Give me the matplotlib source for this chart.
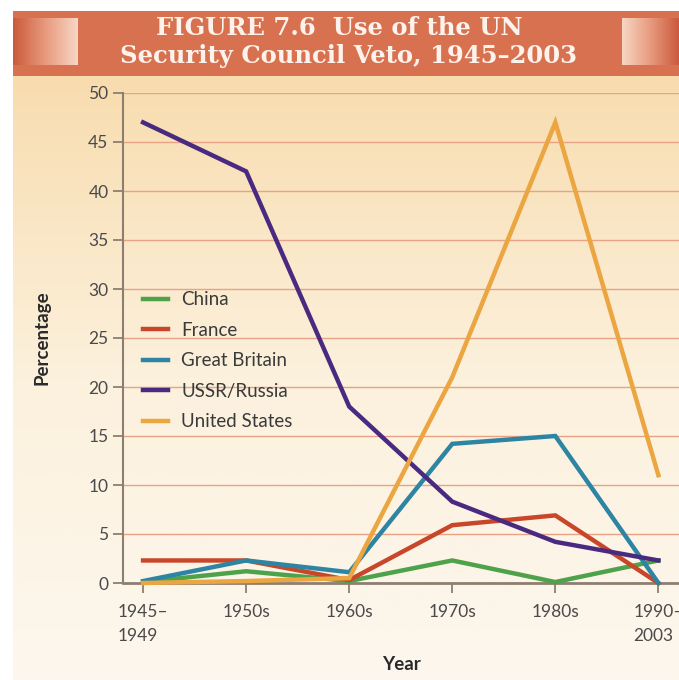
import matplotlib.pyplot as plt
import numpy as np
from matplotlib.colors import LinearSegmentedColormap

# data
periods = ["1945–\n1949", "1950s", "1960s", "1970s", "1980s", "1990–\n2003"]
china = [0.1, 1.2, 0.2, 2.3, 0.1, 2.3]
france = [2.3, 2.3, 0.3, 5.9, 6.9, 0.0]
britain = [0.2, 2.3, 1.1, 14.2, 15.0, 0.0]
ussr = [47.0, 42.0, 18.0, 8.3, 4.2, 2.3]
usa = [0.0, 0.2, 0.5, 21.0, 47.0, 11.0]

series = [("China", china, "#4ea34a"),
          ("France", france, "#c8472b"),
          ("Great Britain", britain, "#2e85a3"),
          ("USSR/Russia", ussr, "#4a2a80"),
          ("United States", usa, "#eba541")]

W, H = 679, 680
fig = plt.figure(figsize=(W / 100, H / 100), dpi=100)
fig.patch.set_facecolor("white")

# background panel with vertical gradient
bg = fig.add_axes([13 / W, 0, 1 - 13 / W, 1 - 76 / H])
bg.axis("off")
grad_cmap = LinearSegmentedColormap.from_list("bg", ["#fcf7ee", "#fcf1dd", "#f8dcae"])
bg.imshow(np.linspace(0, 1, 256).reshape(-1, 1), aspect="auto", cmap=grad_cmap,
          origin="lower", extent=[0, 1, 0, 1])
bg.set_xlim(0, 1)
bg.set_ylim(0, 1)

# header band
hd = fig.add_axes([13 / W, 1 - 76 / H, 1 - 13 / W, 65 / H])
hd.axis("off")
hd.axhspan(11, 76, color="#d8714f", zorder=0)
side = LinearSegmentedColormap.from_list("side", ["#cc5a3c", "#e89a7e", "#f7d6c4"])
hd.imshow(np.linspace(0, 1, 64).reshape(1, -1), aspect="auto", cmap=side,
          extent=[13, 78, 65, 18], zorder=1)
hd.imshow(np.linspace(1, 0, 64).reshape(1, -1), aspect="auto", cmap=side,
          extent=[622, 679, 65, 18], zorder=1)
hd.set_xlim(13, 679)
hd.set_ylim(76, 11)
hd.text(339, 28, "FIGURE 7.6  Use of the UN", ha="center", va="center",
        color="#fdf3ec", fontsize=17.5, fontweight="bold", family="DejaVu Serif")
hd.text(349, 56, "Security Council Veto, 1945–2003", ha="center", va="center",
        color="#fdf3ec", fontsize=17.5, fontweight="bold", family="DejaVu Serif")

# main chart
ax = fig.add_axes([123 / W, 1 - 583 / H, 1 - 123 / W, 490 / H])
ax.patch.set_alpha(0)
x = np.arange(len(periods))
for name, vals, col in series:
    ax.plot(x, vals, color=col, lw=3.2, label=name, solid_joinstyle="miter",
            clip_on=False, zorder=3)

ax.set_ylim(0, 50)
ax.set_xlim(-0.195, 5.2)
ax.set_yticks(range(0, 51, 5))
ax.set_xticks(x)
ax.set_xticklabels(periods, multialignment="left", linespacing=1.6)
for y in range(5, 51, 5):
    ax.axhline(y, color="#e9a285", lw=1.0, zorder=1)

for s in ["top", "right"]:
    ax.spines[s].set_visible(False)
ax.spines["left"].set_color("#8c7f72")
ax.spines["bottom"].set_color("#8c7f72")
ax.spines["left"].set_linewidth(1.5)
ax.spines["bottom"].set_linewidth(2)
ax.tick_params(axis="both", colors="#8c7f72", length=7, width=1.3,
               labelcolor="#4a4a4a", labelsize=12.5)
ax.tick_params(axis="x", pad=8)
for lbl in ax.get_xticklabels() + ax.get_yticklabels():
    lbl.set_family("Lato")

ax.set_ylabel("Percentage", fontsize=13.5, fontweight="bold", color="#2a2a2a",
              family="Lato", labelpad=27)
ax.set_xlabel("Year", fontsize=13.5, fontweight="bold", color="#2a2a2a",
              family="Lato", labelpad=9)

leg = ax.legend(loc="upper left", bbox_to_anchor=(0.005, 0.63), frameon=False,
                handlelength=1.35, handletextpad=0.7, labelspacing=0.72,
                labelcolor="#3a3a3a", prop={"family": "Lato", "size": 13.5})

fig.savefig("out.png", dpi=100)
